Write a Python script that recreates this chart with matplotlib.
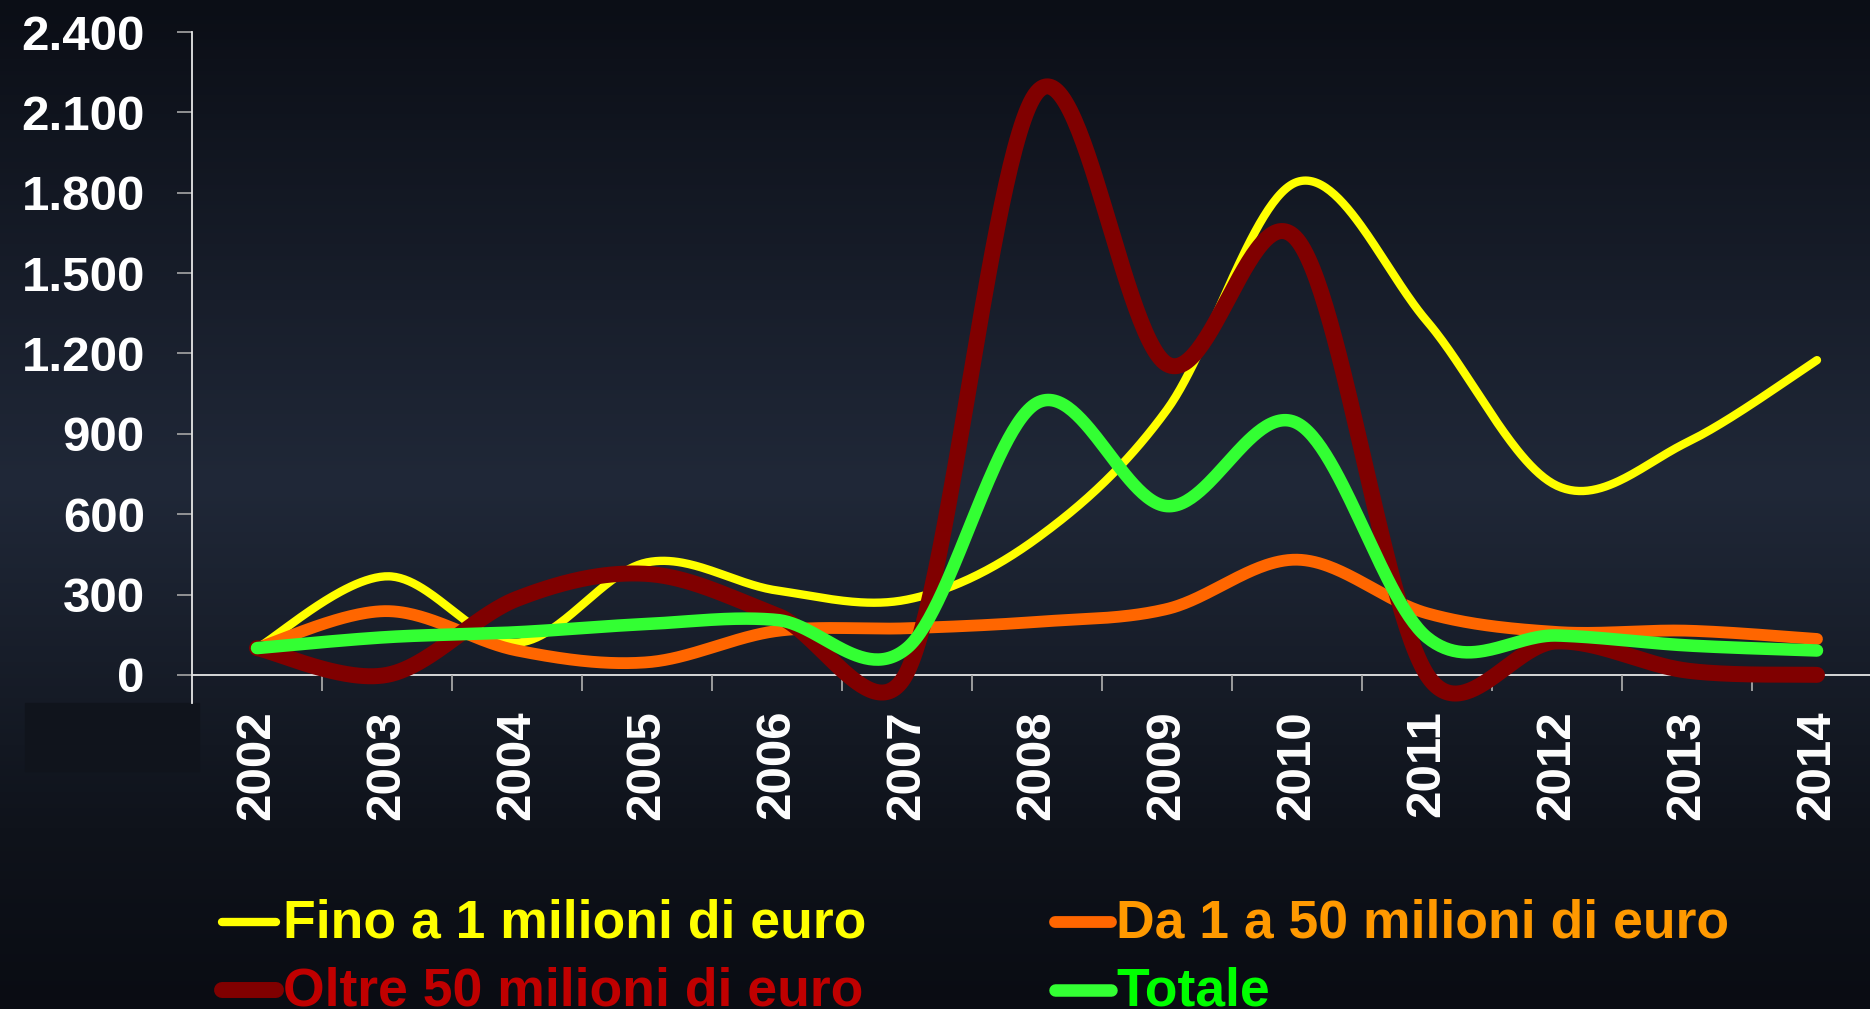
import numpy as np
import matplotlib
matplotlib.use("Agg")
import matplotlib.pyplot as plt
from matplotlib.lines import Line2D
from matplotlib.patches import Rectangle
from matplotlib.colors import LinearSegmentedColormap

plt.rcParams['font.family'] = ['Liberation Sans', 'DejaVu Sans']
plt.rcParams['font.weight'] = 'bold'

# data
years = ['2002', '2003', '2004', '2005', '2006', '2007', '2008',
         '2009', '2010', '2011', '2012', '2013', '2014']
fino_1 = [100, 368, 120, 420, 315, 281, 510, 990, 1840, 1320, 706, 868, 1175]
da_1_a_50 = [100, 238, 91, 47, 164, 174, 198, 246, 430, 230, 160, 165, 134]
oltre_50 = [100, 0, 284, 377, 222, 10, 2175, 1160, 1625, 0, 125, 16, 0]
totale = [100, 141, 159, 190, 205, 100, 1015, 630, 940, 140, 147, 110, 91]

y_ticks = [0, 300, 600, 900, 1200, 1500, 1800, 2100, 2400]
y_labels = ['0', '300', '600', '900', '1.200', '1.500', '1.800', '2.100', '2.400']

series = [
    ('Fino a 1 milioni di euro', fino_1, '#FFFF00', '#FFFF00', 6.0),
    ('Da 1 a 50 milioni di euro', da_1_a_50, '#FF6600', '#FF9900', 8.5),
    ('Oltre 50 milioni di euro', oltre_50, '#800000', '#C00000', 11.5),
    ('Totale', totale, '#33FF33', '#00FF00', 9.0),
]

W, H = 1870, 1009
fig = plt.figure(figsize=(W / 100, H / 100), dpi=100)

# background gradient
bg = fig.add_axes([0, 0, 1, 1], zorder=-10)
cmap = LinearSegmentedColormap.from_list('bg', [
    (0.0, '#0b0e16'), (0.48, '#202838'), (0.82, '#0f131b'), (1.0, '#0a0c13')])
grad = np.linspace(0, 1, 256).reshape(-1, 1)
bg.imshow(grad, aspect='auto', cmap=cmap, extent=[0, 1, 1, 0])
bg.set_xlim(0, 1)
bg.set_ylim(1, 0)
bg.axis('off')

# darker patch bottom-left
fig.add_artist(Rectangle((25 / W, 1 - 771 / H), 174 / W, 68 / H,
                         transform=fig.transFigure, color='#10141c', zorder=-5))

left, right, top, bottom = 192, 1882, 32, 703
ax = fig.add_axes([left / W, 1 - bottom / H, (right - left) / W, (bottom - top) / H])
ax.set_facecolor('none')
x = np.arange(len(years))
ax.set_xlim(-0.5, len(years) - 0.5)
ax.set_ylim(-105, 2400)


def excel_smooth(xs, ys, n=60):
    # bezier smoothing like the spreadsheet's "smoothed line", done in pixel space
    pts = ax.transData.transform(np.column_stack([xs, ys]))
    out = []
    m = len(pts)
    for i in range(m - 1):
        p0 = pts[i - 1] if i > 0 else pts[i]
        p1 = pts[i]
        p2 = pts[i + 1]
        p3 = pts[i + 2] if i + 2 < m else pts[i + 1]
        d12 = np.hypot(*(p2 - p1))
        d02 = np.hypot(*(p2 - p0))
        d13 = np.hypot(*(p3 - p1))
        f = 1 / 6
        if d02 > 0 and d02 / 6 >= d12 / 2:
            f = d12 / (2 * d02)
        g = 1 / 6
        if d13 > 0 and d13 / 6 >= d12 / 2:
            g = d12 / (2 * d13)
        c1 = p1 + (p2 - p0) * f
        c2 = p2 - (p3 - p1) * g
        t = np.linspace(0, 1, n)[:, None]
        seg = ((1 - t) ** 3) * p1 + 3 * ((1 - t) ** 2) * t * c1 + 3 * (1 - t) * t ** 2 * c2 + t ** 3 * p2
        out.append(seg if i == 0 else seg[1:])
    curve = np.vstack(out)
    return ax.transData.inverted().transform(curve)


for k, (name, vals, lc, tc, lw) in enumerate(series):
    c = excel_smooth(x, vals)
    ax.plot(c[:, 0], c[:, 1], color=lc, lw=lw, solid_capstyle='round',
            solid_joinstyle='round', zorder=3 + k, clip_on=False)

# axes styling
for s in ['top', 'right', 'bottom']:
    ax.spines[s].set_visible(False)
ax.spines['left'].set_color('#e6e6e6')
ax.spines['left'].set_linewidth(1.3)
ax.axhline(0, color='#e6e6e6', lw=1.3, zorder=2)
ax.vlines(x[:-1] + 0.5, -60, 0, color='#a6a6a6', lw=1.3, zorder=2)

ax.set_yticks(y_ticks)
ax.set_yticklabels(y_labels)
ax.tick_params(axis='y', length=11, width=1.2, color='#a6a6a6', pad=23,
               labelsize=35.5, labelcolor='white')
ax.set_xticks(x)
ax.set_xticklabels(years, rotation=90, va='top', ha='center')
ax.tick_params(axis='x', length=0, pad=5, labelsize=35.5, labelcolor='white')

# legend
rows = [(922, 937), (990, 1005)]
cols = [(222, 276, 283), (1055, 1111, 1116)]
for k, (name, vals, lc, tc, lw) in enumerate(series):
    r = rows[k // 2]
    cl = cols[k % 2]
    fig.add_artist(Line2D([cl[0] / W, cl[1] / W], [1 - r[0] / H, 1 - r[0] / H],
                          transform=fig.transFigure, color=lc, lw=lw,
                          solid_capstyle='round'))
    fig.text(cl[2] / W, 1 - r[1] / H, name, color=tc, fontsize=38.5,
             fontweight='bold', va='baseline', ha='left')

fig.savefig('out.png', dpi=100)
